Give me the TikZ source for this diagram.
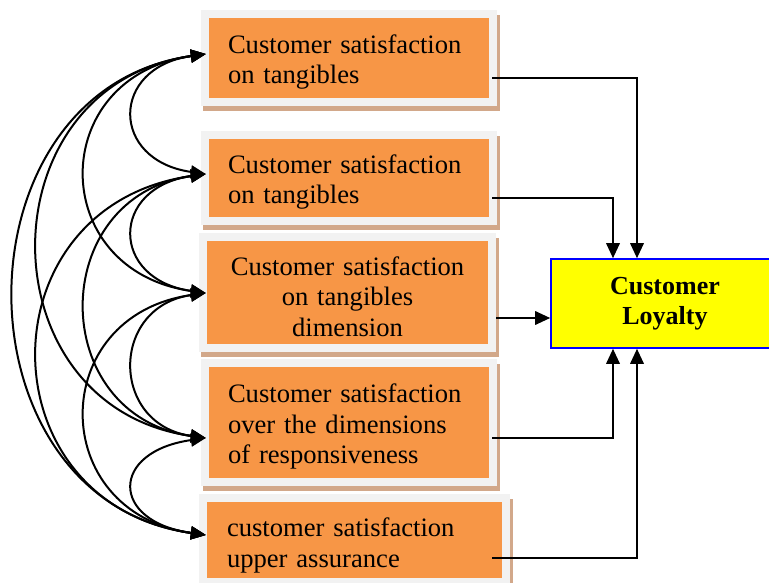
\documentclass[tikz,border=0pt]{standalone}
\usepackage{fontspec}
\setmainfont{Liberation Serif}
\usetikzlibrary{arrows.meta,backgrounds}
\definecolor{boxorange}{HTML}{F79646}
\definecolor{framegrey}{HTML}{F2F2F2}
\definecolor{shadowtan}{HTML}{D2A88A}
\definecolor{loyalyellow}{HTML}{FFFF00}
\definecolor{loyalblue}{HTML}{0000FF}

% grey frame with a tan offset shadow behind an orange card
\newcommand\cardframe[1]{%
  \fill[shadowtan] ([shift={(-6,3)}]#1.north west) rectangle ([shift={(11,-13)}]#1.south east);
  \fill[framegrey] ([shift={(-8,8)}]#1.north west) rectangle ([shift={(7.5,-7.5)}]#1.south east);
}

\tikzset{
  card/.style={fill=boxorange, inner sep=0pt},
  cardtext/.style={inner sep=0pt, yshift=-4pt,
    font=\fontsize{26.6pt}{30.5pt}\selectfont},
  loyal/.style={draw=loyalblue, line width=1.6pt, fill=loyalyellow, inner sep=0pt,
    minimum width=228pt, minimum height=89pt, align=center,
    font=\bfseries\fontsize{26pt}{30pt}\selectfont},
  link/.style={line width=2pt,
    {Triangle[length=15pt,width=13pt]}-{Triangle[length=15pt,width=13pt]}},
  feed/.style={line width=1.8pt, -{Triangle[length=15pt,width=13.5pt]}}
}

\begin{document}
\begin{tikzpicture}[x=1pt,y=1pt]
\useasboundingbox (0,0) rectangle (769,-583);
\clip (0,0) rectangle (769,-583);

% satisfaction cards
\node[card, minimum width=280pt, minimum height=80pt,
  label={[cardtext, text width=242pt, align=left]center:Customer satisfaction\\on tangibles}]
  (o1) at (349,-58) {};
\node[card, minimum width=280pt, minimum height=78pt,
  label={[cardtext, text width=242pt, align=left]center:Customer satisfaction\\on tangibles}]
  (o2) at (349,-178) {};
\node[card, minimum width=281pt, minimum height=103pt,
  label={[cardtext, text width=270pt, align=center]center:Customer satisfaction\\on tangibles\\dimension}]
  (o3) at (347.5,-292.5) {};
\node[card, minimum width=280pt, minimum height=111pt,
  label={[cardtext, text width=242pt, align=left]center:Customer satisfaction\\over the dimensions\\of responsiveness}]
  (o4) at (349,-422.5) {};
\node[card, minimum width=295pt, minimum height=76pt,
  label={[cardtext, text width=255pt, align=left, yshift=-1.5pt]center:customer satisfaction\\upper assurance}]
  (o5) at (354.5,-540) {};

\begin{scope}[on background layer]
  \cardframe{o1}
  \cardframe{o2}
  \cardframe{o3}
  \cardframe{o4}
  \cardframe{o5}
\end{scope}

% outcome
\node[loyal] (L) at (665,-303.5) {Customer\\Loyalty};

% arrow ends on the left of each card
\coordinate (l1) at ([shift={(-3,4)}]o1.west);
\coordinate (l2) at ([shift={(-3,4)}]o2.west);
\coordinate (l3) at ([shift={(-1,-0.5)}]o3.west);
\coordinate (l4) at ([shift={(-3,-15.5)}]o4.west);
\coordinate (l5) at ([shift={(-1,5)}]o5.west);

% correlations between every pair of cards
\foreach \a/\b/\c in {l1/l2/97, l2/l3/97, l3/l4/97, l4/l5/97,
                      l1/l3/161, l2/l4/161, l3/l5/161,
                      l1/l4/225, l2/l5/225,
                      l1/l5/257}
  \draw[link] (\a) .. controls +(188:\c) and +(172:\c) .. (\b);

% line starts on the right of each card
\coordinate (s1) at ([shift={(3,-20)}]o1.east);
\coordinate (s2) at ([shift={(3,-20)}]o2.east);
\coordinate (s3) at ([shift={(8,-25.5)}]o3.east);
\coordinate (s4) at ([shift={(3,-15.5)}]o4.east);
\coordinate (s5) at ([shift={(-10,-18)}]o5.east);

\draw[feed] (s1) -| ([xshift=-28]L.north);
\draw[feed] (s2) -| ([xshift=-52]L.north);
\draw[feed] (s3) -- (s3 -| L.west);
\draw[feed] (s4) -| ([xshift=-52]L.south);
\draw[feed] (s5) -| ([xshift=-28]L.south);
\end{tikzpicture}
\end{document}
